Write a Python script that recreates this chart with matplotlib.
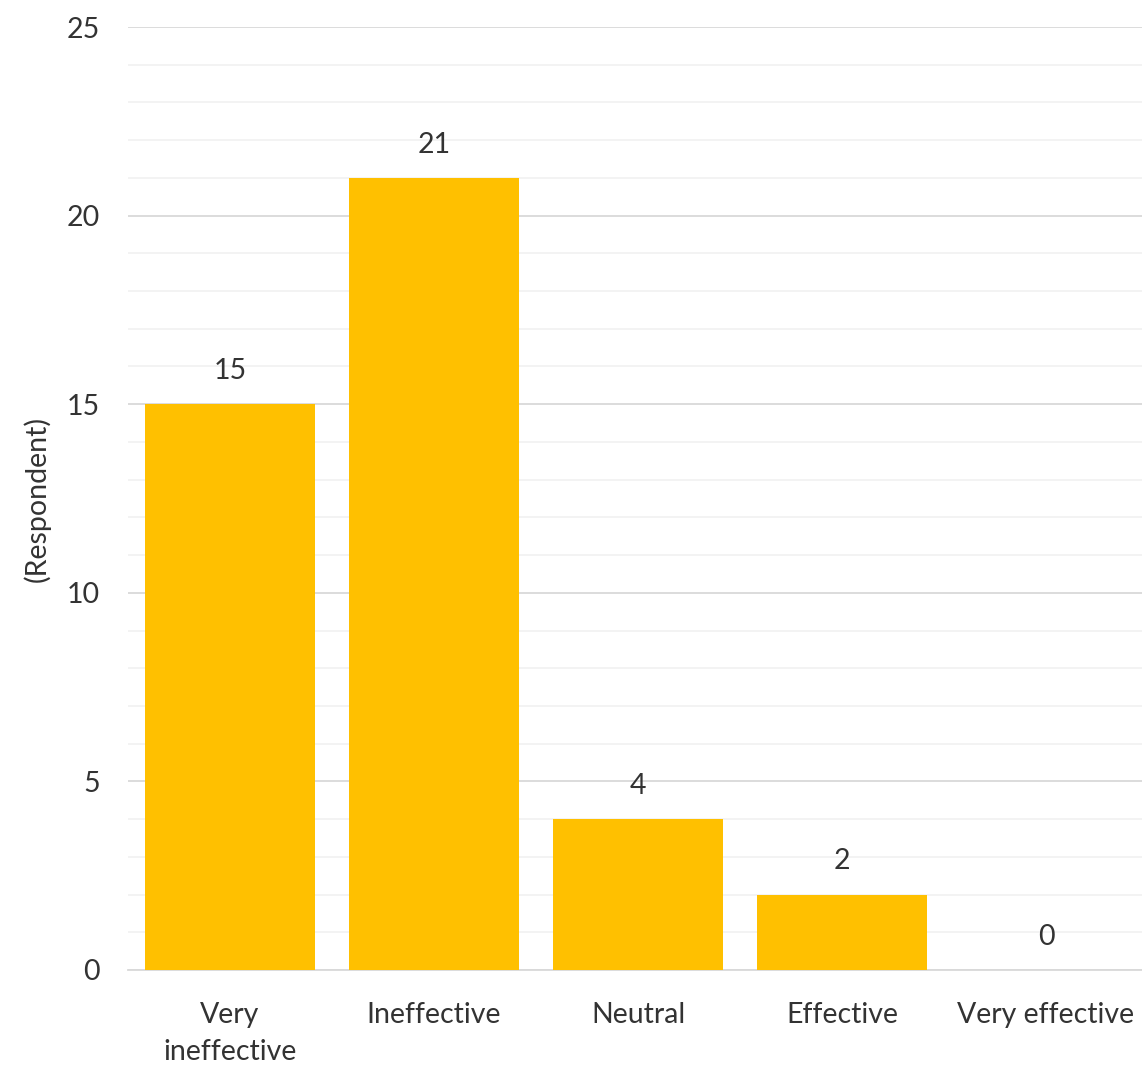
import matplotlib.pyplot as plt
from matplotlib.ticker import MultipleLocator

categories = ["Very\nineffective", "Ineffective", "Neutral", "Effective", "Very effective"]
respondents = [15, 21, 4, 2, 0]

plt.rcParams['font.family'] = ['Lato', 'DejaVu Sans']
text_color = "#333333"
fs = 20.5

fig = plt.figure(figsize=(11.42, 10.67), dpi=100)
ax = fig.add_axes([128 / 1142, 97 / 1067, 1020 / 1142, 943 / 1067])

x = range(len(categories))
bars = ax.bar(x, respondents, width=0.83, color="#FFC000", zorder=3)

ax.set_xlim(-0.5, len(categories) - 0.5)
ax.set_ylim(0, 25)
ax.yaxis.set_major_locator(MultipleLocator(5))
ax.yaxis.set_minor_locator(MultipleLocator(1))
ax.grid(axis="y", which="major", color="#d9d9d9", linewidth=1.3, zorder=0)
ax.grid(axis="y", which="minor", color="#f0f0f0", linewidth=1.1, zorder=0)

for side in ["top", "right", "left"]:
    ax.spines[side].set_visible(False)
ax.spines["bottom"].set_color("#d9d9d9")
ax.spines["bottom"].set_linewidth(1.3)

ax.set_xticks(list(x))
ax.set_xticklabels(categories, fontsize=fs, color=text_color, linespacing=1.55)
ax.tick_params(axis="x", length=0, pad=23)
ax.tick_params(axis="y", which="both", length=0, pad=20, labelsize=fs, labelcolor=text_color)

ax.set_ylabel("(Respondent)", fontsize=fs, color=text_color, labelpad=12)

for rect, v in zip(bars, respondents):
    ax.annotate(str(v), (rect.get_x() + rect.get_width() / 2, v),
                xytext=(0, 24), textcoords="offset points",
                ha="center", va="center", fontsize=fs, color=text_color)

fig.savefig("out.png", dpi=100)
